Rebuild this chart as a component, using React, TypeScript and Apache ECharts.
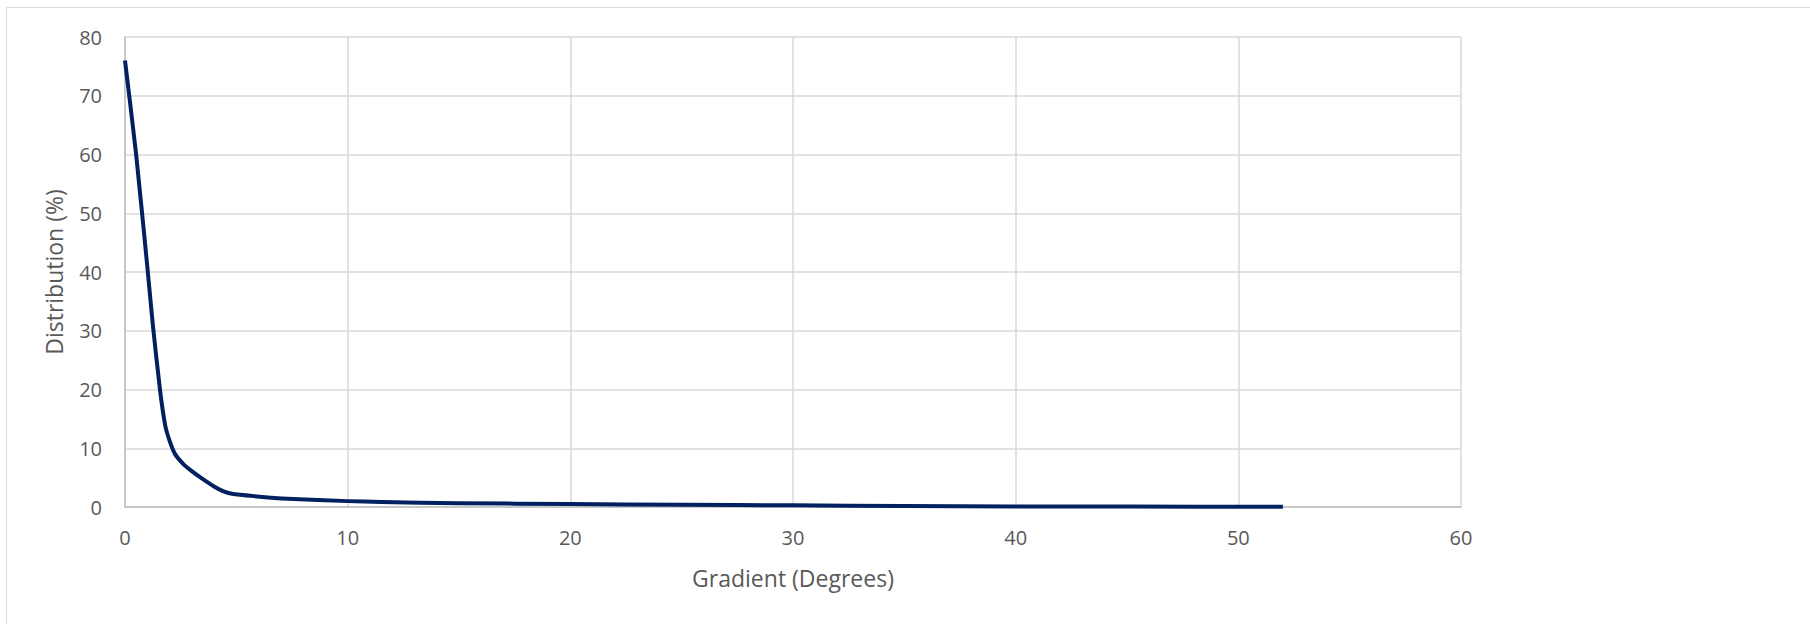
import React, { useEffect, useRef } from "react";
import * as echarts from "echarts";

const gradientDeg = [0, 0.5, 1, 1.25, 1.57, 1.8, 2.0, 2.25, 2.6, 3.0, 3.4, 4.0, 4.4, 4.8, 5.8, 7.3, 10, 11.5, 15, 20, 25, 30, 35, 40, 45, 52];
const distributionPct = [76, 60, 41, 31, 20, 14, 11.3, 9.0, 7.4, 6.1, 5.0, 3.5, 2.7, 2.25, 1.85, 1.4, 1.0, 0.85, 0.65, 0.5, 0.38, 0.28, 0.18, 0.1, 0.07, 0.05];
const xTitle = "Gradient (Degrees)";
const yTitle = "Distribution (%)";

export default function App() {
  const ref = useRef<HTMLDivElement>(null);
  useEffect(() => {
    if (!ref.current) return;
    const chart = echarts.init(ref.current, null, { renderer: "svg" });
    const font = "'Open Sans', sans-serif";
    chart.setOption({
      animation: false,
      backgroundColor: "#ffffff",
      grid: { left: 125, right: 349, top: 37, bottom: 117, containLabel: false },
      xAxis: {
        type: "value",
        min: 0,
        max: 60,
        interval: 10,
        axisLine: { show: true, lineStyle: { color: "#bfbfbf", width: 1.5 } },
        axisTick: { show: false },
        splitLine: { show: true, lineStyle: { color: "#d9d9d9", width: 1.5 } },
        axisLabel: { color: "#595959", fontSize: 20, fontFamily: font, margin: 20 },
      },
      yAxis: {
        type: "value",
        min: 0,
        max: 80,
        interval: 10,
        axisLine: { show: true, lineStyle: { color: "#bfbfbf", width: 1.5 } },
        axisTick: { show: false },
        splitLine: { show: true, lineStyle: { color: "#d9d9d9", width: 1.5 } },
        axisLabel: { color: "#595959", fontSize: 20, fontFamily: font, margin: 23 },
      },
      graphic: [
        {
          type: "rect",
          shape: { x: 6.5, y: 7.5, width: 1900, height: 800 },
          style: { fill: "none", stroke: "#d9d9d9", lineWidth: 1 },
          silent: true,
        },
        {
          type: "text",
          x: 793,
          y: 578,
          style: { text: xTitle, fill: "#595959", fontSize: 23, fontFamily: font, textAlign: "center", textVerticalAlign: "middle" },
        },
        {
          type: "text",
          x: 54,
          y: 272,
          rotation: Math.PI / 2,
          style: { text: yTitle, fill: "#595959", fontSize: 23, fontFamily: font, textAlign: "center", textVerticalAlign: "middle" },
        },
      ],
      series: [
        {
          type: "line",
          data: gradientDeg.map((x, i) => [x, distributionPct[i]]),
          showSymbol: false,
          smooth: 0.2,
          lineStyle: { color: "#002060", width: 4, join: "round", cap: "butt" },
        },
      ],
    });
    return () => chart.dispose();
  }, []);
  return <div ref={ref} style={{ position: "absolute", left: 0, top: 0, width: 1810, height: 624 }} />;
}
